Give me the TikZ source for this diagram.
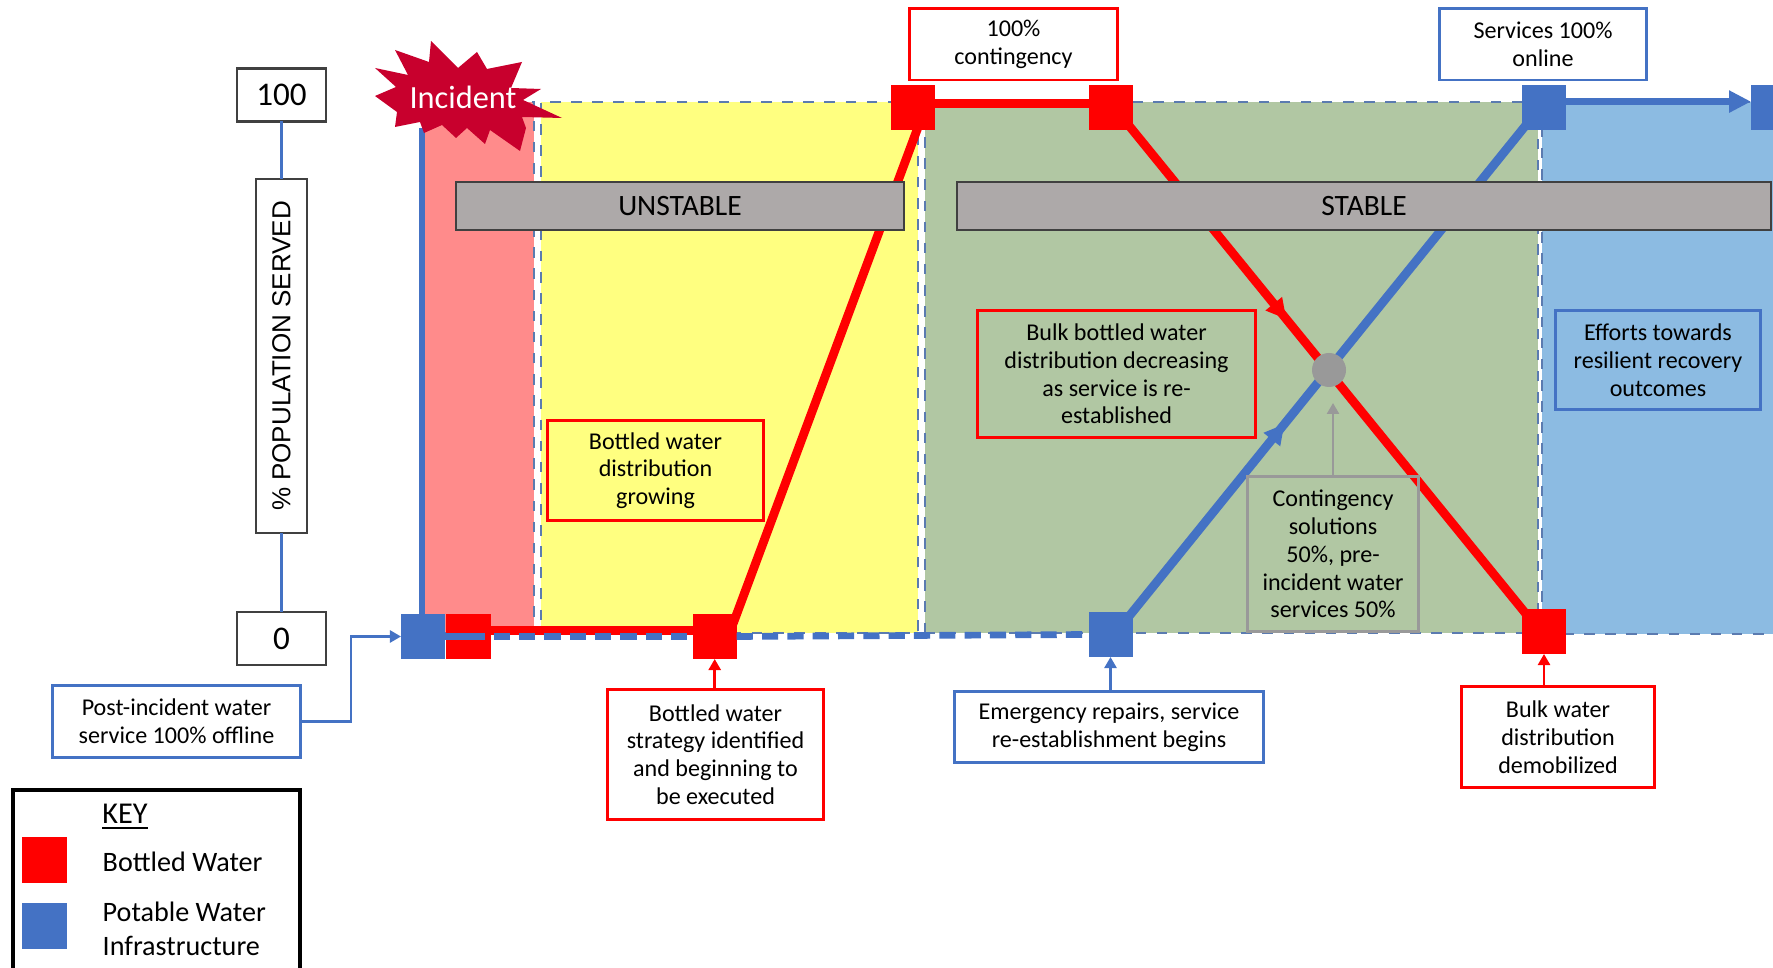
\documentclass[tikz,border=0pt]{standalone}
\usepackage{fontspec}
\setmainfont{Carlito}
\newfontfamily\popfont{Liberation Sans}
\usetikzlibrary{arrows.meta}
\usetikzlibrary{decorations.markings}
\definecolor{waterblue}{HTML}{4472C4}
\definecolor{zonered}{HTML}{FF8B8B}
\definecolor{zoneyellow}{HTML}{FFFF80}
\definecolor{zonegreen}{HTML}{B1C7A3}
\definecolor{zoneblue}{HTML}{8CBBE2}
\definecolor{barfill}{HTML}{ADA9A9}
\definecolor{dashblue}{HTML}{5B7BB0}
\definecolor{burst}{HTML}{C8002D}
\begin{document}
\begin{tikzpicture}[x=0.01cm, y=-0.01cm]
	\tikzset{zone/.style={shape = rectangle, draw = dashblue, dashed, line width = 0.5pt, inner sep = 0, outer sep = 0, minimum height = 5.31cm}}
	\tikzset{square/.style={shape = rectangle, inner sep = 0, outer sep = 0, minimum width = 0.44cm, minimum height = 0.45cm}}
	\tikzset{bar/.style={shape = rectangle, draw = black!75, fill = barfill, line width = 0.7pt, inner sep = 0, outer sep = 0, minimum height = 0.48cm, font = \fontsize{8.4}{10}\selectfont}}
	\tikzset{callout/.style={shape = rectangle, draw, align = center, line width = 0.85pt, inner sep = 0, outer sep = 0, font = \fontsize{6.85}{7.9}\selectfont}}
	\tikzset{scale box/.style={shape = rectangle, draw = black!75, fill = white, line width = 0.6pt, inner sep = 0, outer sep = 0}}
	\tikzset{thick line/.style={line width = 2.5pt}}
	\tikzset{long line/.style={thick line, shorten <=-3pt, shorten >=-3pt}}
	\tikzset{pointer/.style={line width = 0.7pt, -{Triangle[length=1.1mm, width=1.2mm]}}}
	\tikzset{mid arrow/.style={postaction={decorate}, decoration={markings, mark=at position #1 with {\arrow{Triangle[length=2mm, width=2mm]}}}}}
	\clip (0, 0) rectangle (1773, 968);
	%zones
	\node[zone, fill = zonered, minimum width = 1.10cm] (zoneA) at (479, 367.5) {};
	\node[zone, fill = zoneyellow, minimum width = 3.77cm] (zoneB) at (729.5, 367.5) {};
	\node[zone, fill = zonegreen, minimum width = 6.13cm] (zoneC) at (1231.5, 367.5) {};
	\node[zone, fill = zoneblue, minimum width = 2.60cm] (zoneD) at (1672, 368) {};
	%squares
	\node[square, fill = red] (redL) at (468.5, 636.5) {};
	\node[square, fill = waterblue] (blueL) at (423, 636.5) {};
	\node[square, fill = red] (redS) at (714.7, 636.5) {};
	\node[square, fill = red] (redT) at (913, 107.5) {};
	\node[square, fill = red] (redU) at (1110.5, 107.5) {};
	\node[square, fill = waterblue] (blueE) at (1110.5, 634.5) {};
	\node[square, fill = red] (redD) at (1544, 631.5) {};
	\node[square, fill = waterblue] (blueT) at (1544, 107.5) {};
	\node[square, fill = waterblue] (blueF) at (1773, 107.5) {};
	\coordinate (cross) at (1329, 370);
	\coordinate (blueTop) at (422, 128);
	\coordinate (contTip) at (1333, 403);
	%service lines
	\path[waterblue, line width = 1.8pt] (blueL.north -| blueTop) edge (blueTop);
	\path[red, thick line] (redL.165) edge (redS.165);
	\path[red, long line] (redS.north east) edge (redT.-80);
	\path[red, thick line] (redT.10) edge (redU.170);
	\draw[waterblue, line width = 1.9pt] (blueL.east) -- (redL.center);
	\draw[waterblue, line width = 1.9pt, dash pattern = on 4.6pt off 2.6pt] (redL.center) -- (redS.west);
	\draw[waterblue, line width = 1.9pt, dash pattern = on 4.6pt off 2.6pt] (redS.east) -- (blueE.west);
	\draw[red, long line, mid arrow = 0.395] (redU.south east) -- (redD.north west);
	\draw[waterblue, long line, mid arrow = 0.39] (blueE.north east) -- (blueT.south west);
	\draw[waterblue, line width = 2.2pt, -{Triangle[length=2.2mm, width=2.1mm]}] (blueT.15) -- (blueF.165);
	\node[shape = circle, fill = black!40, inner sep = 0, minimum size = 0.34cm] (crossDot) at (cross) {};
	%phase bars
	\node[bar, minimum width = 4.48cm] (unstable) at (680, 206) {UNSTABLE};
	\node[bar, minimum width = 8.14cm] (stable) at (1364, 206) {STABLE};
	%burst
	\fill[burst] (431, 41) -- (458, 68) -- (477, 52) -- (487, 69) -- (522, 62) -- (511, 88) -- (541, 89) -- (523, 100) -- (562, 118) -- (522, 117) -- (526, 128) -- (520, 151) -- (490, 130) -- (485, 144) -- (467, 128) -- (456, 138) -- (442, 125) -- (424, 133) -- (420, 122) -- (395, 127) -- (397, 112) -- (375, 96) -- (396, 87) -- (375, 68) -- (408, 75) -- (395, 50) -- (429, 62) -- cycle;
	\node[white, font = \fontsize{9.2}{11}\selectfont] (incident) at (463, 97) {Incident};
	%axis
	\node[scale box, minimum width = 0.89cm, minimum height = 0.53cm, font = \fontsize{9.4}{11}\selectfont] (box100) at (281.5, 95) {100};
	\node[scale box, minimum width = 0.89cm, minimum height = 0.53cm, font = \fontsize{9.4}{11}\selectfont] (box0) at (281.5, 638.5) {0};
	\node[scale box, minimum width = 0.51cm, minimum height = 3.54cm, font = \popfont\fontsize{7.4}{9}\selectfont] (popBox) at (281.5, 356) {\rotatebox{90}{\% POPULATION SERVED}};
	\path[waterblue, line width = 1pt] (box100.south) edge (popBox.north);
	\path[waterblue, line width = 1pt] (popBox.south) edge (box0.north);
	%callouts
	\node[callout, draw = waterblue, minimum width = 2.47cm, minimum height = 0.71cm] (post) at (176.5, 721.5) {Post-incident water\\service 100\% offline};
	\node[callout, draw = red, minimum width = 2.15cm, minimum height = 1.29cm] (strategy) at (715.5, 754.5) {Bottled water\\strategy identified\\and beginning to\\be executed};
	\node[callout, draw = waterblue, minimum width = 3.08cm, minimum height = 0.70cm] (repairs) at (1109, 727) {Emergency repairs, service\\re-establishment begins};
	\node[callout, draw = red, minimum width = 1.92cm, minimum height = 1.00cm] (demob) at (1558, 737) {Bulk water\\distribution\\demobilized};
	\node[callout, draw = red, minimum width = 2.15cm, minimum height = 0.99cm] (growing) at (655.5, 470.5) {Bottled water\\distribution\\growing};
	\node[callout, draw = red, minimum width = 2.77cm, minimum height = 1.26cm] (decreasing) at (1116.5, 374) {Bulk bottled water\\distribution decreasing\\as service is re-\\established};
	\node[callout, draw = black!40, minimum width = 1.70cm, minimum height = 1.54cm] (contingency) at (1333, 554) {Contingency\\solutions\\50\%, pre-\\incident water\\services 50\%};
	\node[callout, draw = waterblue, minimum width = 2.04cm, minimum height = 0.98cm] (efforts) at (1658, 360) {Efforts towards\\resilient recovery\\outcomes};
	\node[callout, draw = red, fill = white, minimum width = 2.07cm, minimum height = 0.71cm] (full) at (1013.5, 44.5) {100\%\\contingency};
	\node[callout, draw = waterblue, fill = white, minimum width = 2.06cm, minimum height = 0.71cm] (online) at (1543, 44.5) {Services 100\%\\online};
	%pointers
	\draw[waterblue, pointer] (post.east) -- (351, 721.5) |- (blueL.west);
	\draw[red, pointer] (redS.south |- strategy.north) -- (redS.south);
	\draw[waterblue, pointer] (blueE.south |- repairs.north) -- (blueE.south);
	\draw[red, pointer] (redD.south |- demob.north) -- (redD.south);
	\draw[black!40, pointer] (contTip |- contingency.north) -- (contTip);
	%key
	\draw[black, line width = 0.9pt] (13, 790) rectangle (300, 1000);
	\node[font = \fontsize{8.6}{10}\selectfont] (keyTitle) at (125, 817) {\underline{KEY}};
	\node[square, fill = red] (keyRed) at (44.5, 860) {};
	\node[square, fill = waterblue] (keyBlue) at (44.5, 926) {};
	\node[anchor = west, inner sep = 0, font = \fontsize{8}{9.67}\selectfont] (keyBottled) at (102, 862) {Bottled Water};
	\node[anchor = west, inner sep = 0, align = left, font = \fontsize{8}{9.67}\selectfont] (keyPotable) at (102, 929) {Potable Water\\Infrastructure};
\end{tikzpicture}
\end{document}
